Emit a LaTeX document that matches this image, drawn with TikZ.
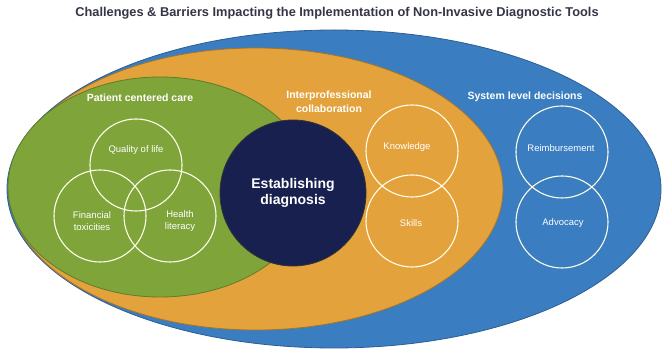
\documentclass[tikz,border=0pt]{standalone}
\usepackage{fontspec}
\setmainfont{Liberation Sans}
\usepackage{xcolor}
\usepackage{tikz}
\usetikzlibrary{positioning, shapes.geometric}
\definecolor{sysblue}{HTML}{3A7DC0}
\definecolor{sysedge}{HTML}{2C5E92}
\definecolor{ipgold}{HTML}{E3A23B}
\definecolor{ipedge}{HTML}{A87528}
\definecolor{pcgreen}{HTML}{7FA43A}
\definecolor{pcedge}{HTML}{5E7E2A}
\definecolor{dxnavy}{HTML}{18204F}
\definecolor{titlegray}{HTML}{343645}

\begin{document}
\begin{tikzpicture}[
  x=1pt, y=-1pt,
  zone/.style={ellipse, inner sep=0pt, line width=0.8pt},
  ring/.style={circle, draw=white!92!yellow, line width=1.1pt, minimum size=92pt, inner sep=0pt},
  head/.style={font=\fontsize{10.5}{14}\selectfont\bfseries, text=white, align=center},
  ctext/.style={font=\fontsize{9.5}{11.5}\selectfont, text=white, align=center},
]
\useasboundingbox (0,0) rectangle (662,352);

\node[font=\fontsize{12.8}{14}\selectfont\bfseries, text=titlegray] (title) at (337,13)
  {Challenges \& Barriers Impacting the Implementation of Non-Invasive Diagnostic Tools};

% Nested zones
\node[zone, fill=sysblue, draw=sysedge, minimum width=654pt, minimum height=318pt] (system) at (334,189) {};
\node[zone, fill=ipgold, draw=ipedge, minimum width=494pt, minimum height=282pt] (interprof) at (256,189) {};
\node[zone, fill=pcgreen, draw=pcedge, minimum width=304pt, minimum height=220pt] (patient) at (160,187) {};
\node[circle, fill=dxnavy, draw=black!80, line width=0.8pt, minimum size=146pt,
  font=\fontsize{14}{16.5}\selectfont\bfseries, text=white, align=center] (dx) at (293,193)
  {Establishing\\diagnosis};

\foreach \n/\x/\y in {quality/136/165, financial/100/216, health/170/216,
                      knowledge/412/151, skills/412/221,
                      reimb/562/152, advocacy/562/222} {
  \node[ring] (\n) at (\x,\y) {};
}

% Zone headings
\node[head] (pchead) at (140,98) {Patient centered care};
\node[head] (iphead) at (329,102) {Interprofessional\\collaboration};
\node[head] (syshead) at (525,97) {System level decisions};

\node[ctext] (qtxt) at (136,150) {Quality of life};
\node[ctext] (ftxt) at (92,221) {Financial\\toxicities};
\node[ctext] (htxt) at (180,221) {Health\\literacy};
\node[ctext] (ktxt) at (407,147) {Knowledge};
\node[ctext] (stxt) at (411,223) {Skills};
\node[ctext] (rtxt) at (561,148) {Reimbursement};
\node[ctext] (atxt) at (563,223) {Advocacy};
\end{tikzpicture}
\end{document}
